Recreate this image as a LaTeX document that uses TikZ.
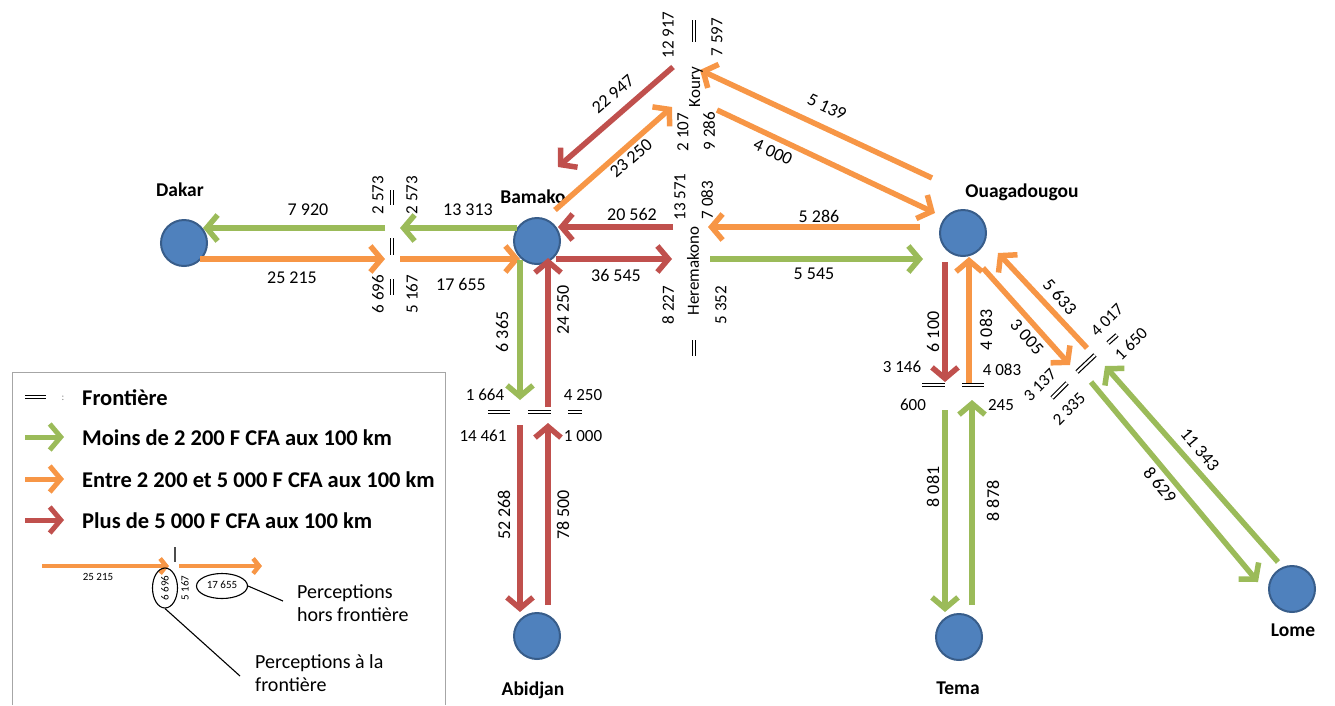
\documentclass[tikz,border=0pt]{standalone}
\usepackage{fontspec}
\setmainfont{Carlito}
\usetikzlibrary{arrows.meta,shapes.geometric}
\definecolor{cgreen}{HTML}{9BBB59}
\definecolor{corange}{HTML}{F79646}
\definecolor{cred}{HTML}{C0504D}
\definecolor{cblue}{HTML}{4F81BD}
\definecolor{cblueb}{HTML}{385D8A}
\begin{document}
\begin{tikzpicture}[x=1pt,y=-1pt,
  flow/.style={line width=5.5pt, -{Straight Barb[length=11pt,width=26pt]}},
  gflow/.style={flow, draw=cgreen},
  oflow/.style={flow, draw=corange},
  rflow/.style={flow, draw=cred},
  num/.style={font=\fontsize{18}{18}\selectfont, inner sep=0pt},
  bnum/.style={font=\fontsize{17}{17}\selectfont, inner sep=0pt, rotate=90},
  dnum/.style={font=\fontsize{17}{17}\selectfont, inner sep=0pt},
  city/.style={circle, fill=cblue, draw=cblueb, line width=2pt, minimum size=46pt, inner sep=0pt, outer sep=0pt},
  cname/.style={font=\bfseries\fontsize{19.5}{19.5}\selectfont, inner sep=0pt},
  brd/.style={draw=black, line width=1.2pt, double=white, double distance=2.2pt},
  legtext/.style={font=\bfseries\fontsize{22.5}{22.5}\selectfont, anchor=west, inner sep=0pt},
  small/.style={font=\fontsize{11}{11}\selectfont, inner sep=0pt},
  note/.style={font=\fontsize{20}{23}\selectfont, anchor=west, align=left, inner sep=0pt},
]
\useasboundingbox (0,0) rectangle (1335,705);

% cities
\node[city] (dakar) at (184,243) {};
\node[city] (bamako) at (537,241) {};
\node[city] (ouaga) at (963,233) {};
\node[city] (abidjan) at (537,636) {};
\node[city] (tema) at (959,637) {};
\node[city] (lome) at (1292,589) {};
\node[cname] (ldakar) at (180,190) {Dakar};
\node[cname] (lbamako) at (533,197) {Bamako};
\node[cname] (louaga) at (1022,192) {Ouagadougou};
\node[cname] (labidjan) at (533,690) {Abidjan};
\node[cname] (ltema) at (958,688) {Tema};
\node[cname] (llome) at (1293,630) {Lome};

% ---------- Dakar - Bamako
\coordinate (db1) at (517,228); \coordinate (db2) at (400,228);
\coordinate (db3) at (385,228); \coordinate (db4) at (203,228);
\coordinate (db5) at (200,259); \coordinate (db6) at (385,259);
\coordinate (db7) at (400,259); \coordinate (db8) at (520,259);
\draw[gflow] (db1) -- (db2);
\draw[gflow] (db3) -- (db4);
\draw[oflow] (db5) -- (db6);
\draw[oflow] (db7) -- (db8);
\draw[brd] (392,190) -- (392,205);
\draw[brd] (392,238) -- (392,255);
\draw[brd] (392,279) -- (392,295);
\node[num] at (468,210) {13 313};
\node[num] at (308,210) {7 920};
\node[num] at (292,278) {25 215};
\node[num] at (461,284) {17 655};
\node[bnum] at (378,195) {2 573};
\node[bnum] at (412,195) {2 573};
\node[bnum] at (378,294) {6 696};
\node[bnum] at (412,294) {5 167};

% ---------- Koury
\coordinate (k1) at (673,67); \coordinate (k2) at (558,167);
\coordinate (k3) at (555,210); \coordinate (k4) at (672,107);
\coordinate (k5) at (932,178); \coordinate (k6) at (700,70);
\coordinate (k7) at (717,110); \coordinate (k8) at (935,213);
\draw[rflow] (k1) -- (k2);
\draw[oflow] (k3) -- (k4);
\draw[oflow] (k5) -- (k6);
\draw[oflow] (k7) -- (k8);
\draw[brd] (694,20) -- (694,42);
\node[num, rotate=41] at (613,94) {22 947};
\node[num, rotate=41] at (631,158) {23 250};
\node[num, rotate=-25] at (827,107) {5 139};
\node[num, rotate=-25] at (773,152) {4 000};
\node[bnum] at (668,35) {12 917};
\node[bnum] at (717,37) {7 597};
\node[bnum] at (696,87) {Koury};
\node[bnum] at (683,132) {2 107};
\node[bnum] at (709,131) {9 286};

% ---------- Heremakono
\coordinate (h1) at (673,227); \coordinate (h2) at (558,227);
\coordinate (h3) at (556,259); \coordinate (h4) at (672,259);
\coordinate (h5) at (920,227); \coordinate (h6) at (708,227);
\coordinate (h7) at (710,259); \coordinate (h8) at (923,259);
\draw[rflow] (h1) -- (h2);
\draw[rflow] (h3) -- (h4);
\draw[oflow] (h5) -- (h6);
\draw[gflow] (h7) -- (h8);
\draw[brd] (694,340) -- (694,356);
\node[num] at (632,214) {20 562};
\node[num] at (616,275) {36 545};
\node[num] at (819,216) {5 286};
\node[num] at (814,274) {5 545};
\node[bnum] at (680,197) {13 571};
\node[bnum] at (707,200) {7 083};
\node[bnum] at (693,271) {Heremakono};
\node[bnum] at (668,305) {8 227};
\node[bnum] at (721,305) {5 352};

% ---------- Abidjan
\coordinate (a1) at (520,260); \coordinate (a2) at (520,400);
\coordinate (a3) at (548,407); \coordinate (a4) at (548,258);
\coordinate (a5) at (520,425); \coordinate (a6) at (520,612);
\coordinate (a7) at (548,605); \coordinate (a8) at (548,423);
\draw[gflow] (a1) -- (a2);
\draw[rflow] (a3) -- (a4);
\draw[rflow] (a5) -- (a6);
\draw[rflow] (a7) -- (a8);
\draw[brd] (488,412) -- (510,412);
\draw[brd] (528,412) -- (551,412);
\draw[brd] (568,412) -- (582,412);
\node[num, rotate=90] at (502,332) {6 365};
\node[num, rotate=90] at (563,310) {24 250};
\node[num, rotate=90] at (504,515) {52 268};
\node[num, rotate=90] at (563,515) {78 500};
\node[dnum] at (485,395) {1 664};
\node[dnum] at (583,395) {4 250};
\node[dnum] at (483,436) {14 461};
\node[dnum] at (583,436) {1 000};

% ---------- Tema
\coordinate (t1) at (945,262); \coordinate (t2) at (945,382);
\coordinate (t3) at (969,383); \coordinate (t4) at (969,257);
\coordinate (t5) at (945,410); \coordinate (t6) at (945,612);
\coordinate (t7) at (972,605); \coordinate (t8) at (972,400);
\draw[rflow] (t1) -- (t2);
\draw[oflow] (t3) -- (t4);
\draw[gflow] (t5) -- (t6);
\draw[gflow] (t7) -- (t8);
\draw[brd] (922,385) -- (945,385);
\draw[brd] (962,385) -- (984,385);
\node[num, rotate=90] at (933,332) {6 100};
\node[num, rotate=90] at (986,330) {4 083};
\node[num, rotate=90] at (933,487) {8 081};
\node[num, rotate=90] at (993,501) {8 878};
\node[dnum] at (902,367) {3 146};
\node[dnum] at (1002,370) {4 083};
\node[dnum] at (913,405) {600};
\node[dnum] at (1001,405) {245};

% ---------- Lome
\coordinate (l1) at (983,268); \coordinate (l2) at (1070,365);
\coordinate (l3) at (1087,348); \coordinate (l4) at (998,253);
\coordinate (l5) at (1091,382); \coordinate (l6) at (1258,582);
\coordinate (l7) at (1278,562); \coordinate (l8) at (1105,366);
\draw[oflow] (l1) -- (l2);
\draw[oflow] (l3) -- (l4);
\draw[gflow] (l5) -- (l6);
\draw[gflow] (l7) -- (l8);
\draw[brd] (1077,372) -- (1095,355);
\draw[brd] (1052,398) -- (1067,383);
\draw[brd] (1108,343) -- (1117,335);
\node[num, rotate=-48] at (1027,337) {3 005};
\node[num, rotate=-48] at (1060,297) {5 633};
\node[num, rotate=-50] at (1160,485) {8 629};
\node[num, rotate=-50] at (1200,450) {11 343};
\node[dnum, rotate=45] at (1107,320) {4 017};
\node[dnum, rotate=45] at (1131,344) {1 650};
\node[dnum, rotate=45] at (1040,385) {3 137};
\node[dnum, rotate=45] at (1069,409) {2 335};

% ---------- Legend
\draw[line width=0.8pt, draw=black!35] (12,705) -- (12,372) -- (445,372) -- (445,705);
\draw[draw=black, line width=1pt, double=white, double distance=1.4pt] (25,397) -- (46,397);
\node[font=\fontsize{10}{10}\selectfont, text=black!50, inner sep=0pt] (colon) at (63,398) {:};
\node[legtext] (lg0) at (82,398) {Frontière};
\coordinate (lga1) at (25,437); \coordinate (lgb1) at (64,437);
\coordinate (lga2) at (25,479); \coordinate (lgb2) at (64,479);
\coordinate (lga3) at (25,520); \coordinate (lgb3) at (64,520);
\draw[gflow, line width=5pt] (lga1) -- (lgb1);
\draw[oflow, line width=5pt] (lga2) -- (lgb2);
\draw[rflow, line width=5pt] (lga3) -- (lgb3);
\node[legtext] (lg1) at (82,438) {Moins de 2 200 F CFA aux 100 km};
\node[legtext] (lg2) at (82,480) {Entre 2 200 et 5 000 F CFA aux 100 km};
\node[legtext] (lg3) at (82,521) {Plus de 5 000 F CFA aux 100 km};

% example
\coordinate (ex1) at (42,566); \coordinate (ex2) at (169,566);
\coordinate (ex3) at (179,566); \coordinate (ex4) at (262,566);
\draw[corange, line width=4.5pt, -{Straight Barb[length=6pt,width=15pt]}] (ex1) -- (ex2);
\draw[corange, line width=4.5pt, -{Straight Barb[length=6pt,width=15pt]}] (ex3) -- (ex4);
\draw[line width=1.4pt, draw=black!70] (175,547) -- (175,562);
\node[small] at (98,577) {25 215};
\node[small, rotate=90] at (165,588) {6 696};
\node[small, rotate=90] at (185,588) {5 167};
\node[small] at (222,585) {17 655};
\node[draw, ellipse, line width=1.1pt, minimum width=25pt, minimum height=40pt, inner sep=0pt] (e1) at (165,588) {};
\node[draw, ellipse, line width=1.1pt, minimum width=51pt, minimum height=25pt, inner sep=0pt] (e2) at (222,586) {};
\node[note] (n1) at (297,603) {Perceptions\\hors frontière};
\node[note] (n2) at (255,673) {Perceptions à la\\frontière};
\coordinate (c1) at (283,601);
\coordinate (c2) at (240,676);
\draw[line width=1.1pt] (e2.east) -- (c1);
\draw[line width=1.1pt] (e1.south) -- (c2);
\end{tikzpicture}
\end{document}
